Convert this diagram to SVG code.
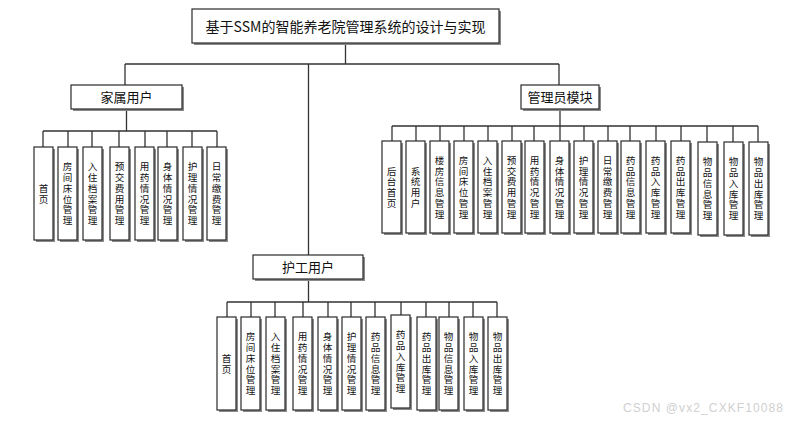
<svg xmlns="http://www.w3.org/2000/svg" width="806" height="424" viewBox="0 0 806 424">
<style>
.bg{fill:#ffffff}
.sh{fill:#8a8a8a}
.box{fill:#ffffff;stroke:#2a2a2a;stroke-width:1.2}
.ln{fill:none;stroke:#333333;stroke-width:1.3}
.t{font-family:"Noto Sans CJK SC","Noto Sans",sans-serif;fill:#111111;text-anchor:middle}
.h{font-size:14px}
.m{font-size:13px}
.v{font-family:"Liberation Sans","Noto Sans CJK SC",sans-serif;font-size:9.6px}
.wm{font-family:"Liberation Sans","Noto Sans",sans-serif;font-size:12px;letter-spacing:1.1px;fill:#d0d0d0}
</style>
<rect class="bg" x="0" y="0" width="806" height="424"/>
<g id="connectors">
<path class="ln" d="M345.5 43V64M125 64H559M125 64V85M559 64V85M308.5 64V255"/>
<path class="ln" d="M126.5 109V131M43 131H217M43 131V147M68 131V147M92 131V147M119 131V147M145 131V147M167 131V147M192 131V147M217 131V147"/>
<path class="ln" d="M560 109V126M392 126H758M392 126V141M416 126V141M440 126V141M464 126V141M488 126V141M512 126V141M534 126V141M560 126V141M584 126V141M608 126V141M630 126V141M656 126V141M681 126V141M707 126V142M733 126V142M758 126V142"/>
<path class="ln" d="M308.5 279V302M227 302H497M227 302V317M251 302V317M275 302V317M303 302V317M328 302V317M351 302V317M375 302V317M401 302V315M426 302V317M449 302V317M473 302V317M497 302V317"/>
</g>
<g id="title">
<rect class="sh" x="194" y="11" width="307" height="34"/>
<rect class="box" x="192" y="9" width="307" height="34"/>
<text class="t h" x="345.5" y="31.5">基于SSM的智能养老院管理系统的设计与实现</text>
</g>
<g id="family">
<rect class="sh" x="73" y="87" width="111" height="24"/>
<rect class="box" x="71" y="85" width="111" height="24"/>
<text class="t m" x="126.5" y="102">家属用户</text>
</g>
<g id="admin">
<rect class="sh" x="523" y="87" width="78" height="24"/>
<rect class="box" x="521" y="85" width="78" height="24"/>
<text class="t m" x="560" y="102">管理员模块</text>
</g>
<g id="nurse">
<rect class="sh" x="255" y="257" width="110" height="24"/>
<rect class="box" x="253" y="255" width="110" height="24"/>
<text class="t m" x="308" y="272">护工用户</text>
</g>

<g id="f1"><rect class="sh" x="36" y="149" width="19" height="93"/><rect class="box" x="34" y="147" width="19" height="93"/><text class="t v"><tspan x="43.5" y="191.8">首</tspan><tspan x="43.5" dy="10.8">页</tspan></text></g>
<g id="f2"><rect class="sh" x="60" y="149" width="19" height="93"/><rect class="box" x="58" y="147" width="19" height="93"/><text class="t v"><tspan x="67.5" y="170.2">房</tspan><tspan x="67.5" dy="10.8">间</tspan><tspan x="67.5" dy="10.8">床</tspan><tspan x="67.5" dy="10.8">位</tspan><tspan x="67.5" dy="10.8">管</tspan><tspan x="67.5" dy="10.8">理</tspan></text></g>
<g id="f3"><rect class="sh" x="85" y="149" width="19" height="93"/><rect class="box" x="83" y="147" width="19" height="93"/><text class="t v"><tspan x="92.5" y="170.2">入</tspan><tspan x="92.5" dy="10.8">住</tspan><tspan x="92.5" dy="10.8">档</tspan><tspan x="92.5" dy="10.8">案</tspan><tspan x="92.5" dy="10.8">管</tspan><tspan x="92.5" dy="10.8">理</tspan></text></g>
<g id="f4"><rect class="sh" x="112" y="149" width="19" height="93"/><rect class="box" x="110" y="147" width="19" height="93"/><text class="t v"><tspan x="119.5" y="170.2">预</tspan><tspan x="119.5" dy="10.8">交</tspan><tspan x="119.5" dy="10.8">费</tspan><tspan x="119.5" dy="10.8">用</tspan><tspan x="119.5" dy="10.8">管</tspan><tspan x="119.5" dy="10.8">理</tspan></text></g>
<g id="f5"><rect class="sh" x="137" y="149" width="19" height="93"/><rect class="box" x="135" y="147" width="19" height="93"/><text class="t v"><tspan x="144.5" y="170.2">用</tspan><tspan x="144.5" dy="10.8">药</tspan><tspan x="144.5" dy="10.8">情</tspan><tspan x="144.5" dy="10.8">况</tspan><tspan x="144.5" dy="10.8">管</tspan><tspan x="144.5" dy="10.8">理</tspan></text></g>
<g id="f6"><rect class="sh" x="160" y="149" width="19" height="93"/><rect class="box" x="158" y="147" width="19" height="93"/><text class="t v"><tspan x="167.5" y="170.2">身</tspan><tspan x="167.5" dy="10.8">体</tspan><tspan x="167.5" dy="10.8">情</tspan><tspan x="167.5" dy="10.8">况</tspan><tspan x="167.5" dy="10.8">管</tspan><tspan x="167.5" dy="10.8">理</tspan></text></g>
<g id="f7"><rect class="sh" x="185" y="149" width="19" height="93"/><rect class="box" x="183" y="147" width="19" height="93"/><text class="t v"><tspan x="192.5" y="170.2">护</tspan><tspan x="192.5" dy="10.8">理</tspan><tspan x="192.5" dy="10.8">情</tspan><tspan x="192.5" dy="10.8">况</tspan><tspan x="192.5" dy="10.8">管</tspan><tspan x="192.5" dy="10.8">理</tspan></text></g>
<g id="f8"><rect class="sh" x="209" y="149" width="19" height="93"/><rect class="box" x="207" y="147" width="19" height="93"/><text class="t v"><tspan x="216.5" y="170.2">日</tspan><tspan x="216.5" dy="10.8">常</tspan><tspan x="216.5" dy="10.8">缴</tspan><tspan x="216.5" dy="10.8">费</tspan><tspan x="216.5" dy="10.8">管</tspan><tspan x="216.5" dy="10.8">理</tspan></text></g>

<g id="a1"><rect class="sh" x="384" y="143" width="19" height="92"/><rect class="box" x="382" y="141" width="19" height="92"/><text class="t v"><tspan x="391.5" y="174.5">后</tspan><tspan x="391.5" dy="10.8">台</tspan><tspan x="391.5" dy="10.8">首</tspan><tspan x="391.5" dy="10.8">页</tspan></text></g>
<g id="a2"><rect class="sh" x="408" y="143" width="19" height="92"/><rect class="box" x="406" y="141" width="19" height="92"/><text class="t v"><tspan x="415.5" y="174.5">系</tspan><tspan x="415.5" dy="10.8">统</tspan><tspan x="415.5" dy="10.8">用</tspan><tspan x="415.5" dy="10.8">户</tspan></text></g>
<g id="a3"><rect class="sh" x="432" y="143" width="19" height="92"/><rect class="box" x="430" y="141" width="19" height="92"/><text class="t v"><tspan x="439.5" y="163.7">楼</tspan><tspan x="439.5" dy="10.8">房</tspan><tspan x="439.5" dy="10.8">信</tspan><tspan x="439.5" dy="10.8">息</tspan><tspan x="439.5" dy="10.8">管</tspan><tspan x="439.5" dy="10.8">理</tspan></text></g>
<g id="a4"><rect class="sh" x="456" y="143" width="19" height="92"/><rect class="box" x="454" y="141" width="19" height="92"/><text class="t v"><tspan x="463.5" y="163.7">房</tspan><tspan x="463.5" dy="10.8">间</tspan><tspan x="463.5" dy="10.8">床</tspan><tspan x="463.5" dy="10.8">位</tspan><tspan x="463.5" dy="10.8">管</tspan><tspan x="463.5" dy="10.8">理</tspan></text></g>
<g id="a5"><rect class="sh" x="480" y="143" width="19" height="92"/><rect class="box" x="478" y="141" width="19" height="92"/><text class="t v"><tspan x="487.5" y="163.7">入</tspan><tspan x="487.5" dy="10.8">住</tspan><tspan x="487.5" dy="10.8">档</tspan><tspan x="487.5" dy="10.8">案</tspan><tspan x="487.5" dy="10.8">管</tspan><tspan x="487.5" dy="10.8">理</tspan></text></g>
<g id="a6"><rect class="sh" x="504" y="143" width="19" height="92"/><rect class="box" x="502" y="141" width="19" height="92"/><text class="t v"><tspan x="511.5" y="163.7">预</tspan><tspan x="511.5" dy="10.8">交</tspan><tspan x="511.5" dy="10.8">费</tspan><tspan x="511.5" dy="10.8">用</tspan><tspan x="511.5" dy="10.8">管</tspan><tspan x="511.5" dy="10.8">理</tspan></text></g>
<g id="a7"><rect class="sh" x="527" y="143" width="19" height="92"/><rect class="box" x="525" y="141" width="19" height="92"/><text class="t v"><tspan x="534.5" y="163.7">用</tspan><tspan x="534.5" dy="10.8">药</tspan><tspan x="534.5" dy="10.8">情</tspan><tspan x="534.5" dy="10.8">况</tspan><tspan x="534.5" dy="10.8">管</tspan><tspan x="534.5" dy="10.8">理</tspan></text></g>
<g id="a8"><rect class="sh" x="552" y="143" width="19" height="92"/><rect class="box" x="550" y="141" width="19" height="92"/><text class="t v"><tspan x="559.5" y="163.7">身</tspan><tspan x="559.5" dy="10.8">体</tspan><tspan x="559.5" dy="10.8">情</tspan><tspan x="559.5" dy="10.8">况</tspan><tspan x="559.5" dy="10.8">管</tspan><tspan x="559.5" dy="10.8">理</tspan></text></g>
<g id="a9"><rect class="sh" x="576" y="143" width="19" height="92"/><rect class="box" x="574" y="141" width="19" height="92"/><text class="t v"><tspan x="583.5" y="163.7">护</tspan><tspan x="583.5" dy="10.8">理</tspan><tspan x="583.5" dy="10.8">情</tspan><tspan x="583.5" dy="10.8">况</tspan><tspan x="583.5" dy="10.8">管</tspan><tspan x="583.5" dy="10.8">理</tspan></text></g>
<g id="a10"><rect class="sh" x="600" y="143" width="19" height="92"/><rect class="box" x="598" y="141" width="19" height="92"/><text class="t v"><tspan x="607.5" y="163.7">日</tspan><tspan x="607.5" dy="10.8">常</tspan><tspan x="607.5" dy="10.8">缴</tspan><tspan x="607.5" dy="10.8">费</tspan><tspan x="607.5" dy="10.8">管</tspan><tspan x="607.5" dy="10.8">理</tspan></text></g>
<g id="a11"><rect class="sh" x="623" y="143" width="19" height="92"/><rect class="box" x="621" y="141" width="19" height="92"/><text class="t v"><tspan x="630.5" y="163.7">药</tspan><tspan x="630.5" dy="10.8">品</tspan><tspan x="630.5" dy="10.8">信</tspan><tspan x="630.5" dy="10.8">息</tspan><tspan x="630.5" dy="10.8">管</tspan><tspan x="630.5" dy="10.8">理</tspan></text></g>
<g id="a12"><rect class="sh" x="648" y="143" width="19" height="92"/><rect class="box" x="646" y="141" width="19" height="92"/><text class="t v"><tspan x="655.5" y="163.7">药</tspan><tspan x="655.5" dy="10.8">品</tspan><tspan x="655.5" dy="10.8">入</tspan><tspan x="655.5" dy="10.8">库</tspan><tspan x="655.5" dy="10.8">管</tspan><tspan x="655.5" dy="10.8">理</tspan></text></g>
<g id="a13"><rect class="sh" x="673" y="143" width="19" height="92"/><rect class="box" x="671" y="141" width="19" height="92"/><text class="t v"><tspan x="680.5" y="163.7">药</tspan><tspan x="680.5" dy="10.8">品</tspan><tspan x="680.5" dy="10.8">出</tspan><tspan x="680.5" dy="10.8">库</tspan><tspan x="680.5" dy="10.8">管</tspan><tspan x="680.5" dy="10.8">理</tspan></text></g>
<g id="a14"><rect class="sh" x="700" y="144" width="19" height="93"/><rect class="box" x="698" y="142" width="19" height="93"/><text class="t v"><tspan x="707.5" y="165.2">物</tspan><tspan x="707.5" dy="10.8">品</tspan><tspan x="707.5" dy="10.8">信</tspan><tspan x="707.5" dy="10.8">息</tspan><tspan x="707.5" dy="10.8">管</tspan><tspan x="707.5" dy="10.8">理</tspan></text></g>
<g id="a15"><rect class="sh" x="726" y="144" width="19" height="93"/><rect class="box" x="724" y="142" width="19" height="93"/><text class="t v"><tspan x="733.5" y="165.2">物</tspan><tspan x="733.5" dy="10.8">品</tspan><tspan x="733.5" dy="10.8">入</tspan><tspan x="733.5" dy="10.8">库</tspan><tspan x="733.5" dy="10.8">管</tspan><tspan x="733.5" dy="10.8">理</tspan></text></g>
<g id="a16"><rect class="sh" x="751" y="144" width="19" height="93"/><rect class="box" x="749" y="142" width="19" height="93"/><text class="t v"><tspan x="758.5" y="165.2">物</tspan><tspan x="758.5" dy="10.8">品</tspan><tspan x="758.5" dy="10.8">出</tspan><tspan x="758.5" dy="10.8">库</tspan><tspan x="758.5" dy="10.8">管</tspan><tspan x="758.5" dy="10.8">理</tspan></text></g>

<g id="n1"><rect class="sh" x="219" y="319" width="19" height="93"/><rect class="box" x="217" y="317" width="19" height="93"/><text class="t v"><tspan x="226.5" y="361.8">首</tspan><tspan x="226.5" dy="10.8">页</tspan></text></g>
<g id="n2"><rect class="sh" x="243" y="319" width="19" height="93"/><rect class="box" x="241" y="317" width="19" height="93"/><text class="t v"><tspan x="250.5" y="340.2">房</tspan><tspan x="250.5" dy="10.8">间</tspan><tspan x="250.5" dy="10.8">床</tspan><tspan x="250.5" dy="10.8">位</tspan><tspan x="250.5" dy="10.8">管</tspan><tspan x="250.5" dy="10.8">理</tspan></text></g>
<g id="n3"><rect class="sh" x="268" y="319" width="19" height="93"/><rect class="box" x="266" y="317" width="19" height="93"/><text class="t v"><tspan x="275.5" y="340.2">入</tspan><tspan x="275.5" dy="10.8">住</tspan><tspan x="275.5" dy="10.8">档</tspan><tspan x="275.5" dy="10.8">案</tspan><tspan x="275.5" dy="10.8">管</tspan><tspan x="275.5" dy="10.8">理</tspan></text></g>
<g id="n4"><rect class="sh" x="295" y="319" width="19" height="93"/><rect class="box" x="293" y="317" width="19" height="93"/><text class="t v"><tspan x="302.5" y="340.2">用</tspan><tspan x="302.5" dy="10.8">药</tspan><tspan x="302.5" dy="10.8">情</tspan><tspan x="302.5" dy="10.8">况</tspan><tspan x="302.5" dy="10.8">管</tspan><tspan x="302.5" dy="10.8">理</tspan></text></g>
<g id="n5"><rect class="sh" x="320" y="319" width="19" height="93"/><rect class="box" x="318" y="317" width="19" height="93"/><text class="t v"><tspan x="327.5" y="340.2">身</tspan><tspan x="327.5" dy="10.8">体</tspan><tspan x="327.5" dy="10.8">情</tspan><tspan x="327.5" dy="10.8">况</tspan><tspan x="327.5" dy="10.8">管</tspan><tspan x="327.5" dy="10.8">理</tspan></text></g>
<g id="n6"><rect class="sh" x="344" y="319" width="19" height="93"/><rect class="box" x="342" y="317" width="19" height="93"/><text class="t v"><tspan x="351.5" y="340.2">护</tspan><tspan x="351.5" dy="10.8">理</tspan><tspan x="351.5" dy="10.8">情</tspan><tspan x="351.5" dy="10.8">况</tspan><tspan x="351.5" dy="10.8">管</tspan><tspan x="351.5" dy="10.8">理</tspan></text></g>
<g id="n7"><rect class="sh" x="368" y="319" width="19" height="93"/><rect class="box" x="366" y="317" width="19" height="93"/><text class="t v"><tspan x="375.5" y="340.2">药</tspan><tspan x="375.5" dy="10.8">品</tspan><tspan x="375.5" dy="10.8">信</tspan><tspan x="375.5" dy="10.8">息</tspan><tspan x="375.5" dy="10.8">管</tspan><tspan x="375.5" dy="10.8">理</tspan></text></g>
<g id="n8"><rect class="sh" x="393" y="317" width="19" height="93"/><rect class="box" x="391" y="315" width="19" height="93"/><text class="t v"><tspan x="400.5" y="338.2">药</tspan><tspan x="400.5" dy="10.8">品</tspan><tspan x="400.5" dy="10.8">入</tspan><tspan x="400.5" dy="10.8">库</tspan><tspan x="400.5" dy="10.8">管</tspan><tspan x="400.5" dy="10.8">理</tspan></text></g>
<g id="n9"><rect class="sh" x="419" y="319" width="19" height="93"/><rect class="box" x="417" y="317" width="19" height="93"/><text class="t v"><tspan x="426.5" y="340.2">药</tspan><tspan x="426.5" dy="10.8">品</tspan><tspan x="426.5" dy="10.8">出</tspan><tspan x="426.5" dy="10.8">库</tspan><tspan x="426.5" dy="10.8">管</tspan><tspan x="426.5" dy="10.8">理</tspan></text></g>
<g id="n10"><rect class="sh" x="441" y="319" width="19" height="93"/><rect class="box" x="439" y="317" width="19" height="93"/><text class="t v"><tspan x="448.5" y="340.2">物</tspan><tspan x="448.5" dy="10.8">品</tspan><tspan x="448.5" dy="10.8">信</tspan><tspan x="448.5" dy="10.8">息</tspan><tspan x="448.5" dy="10.8">管</tspan><tspan x="448.5" dy="10.8">理</tspan></text></g>
<g id="n11"><rect class="sh" x="466" y="319" width="19" height="93"/><rect class="box" x="464" y="317" width="19" height="93"/><text class="t v"><tspan x="473.5" y="340.2">物</tspan><tspan x="473.5" dy="10.8">品</tspan><tspan x="473.5" dy="10.8">入</tspan><tspan x="473.5" dy="10.8">库</tspan><tspan x="473.5" dy="10.8">管</tspan><tspan x="473.5" dy="10.8">理</tspan></text></g>
<g id="n12"><rect class="sh" x="490" y="319" width="19" height="93"/><rect class="box" x="488" y="317" width="19" height="93"/><text class="t v"><tspan x="497.5" y="340.2">物</tspan><tspan x="497.5" dy="10.8">品</tspan><tspan x="497.5" dy="10.8">出</tspan><tspan x="497.5" dy="10.8">库</tspan><tspan x="497.5" dy="10.8">管</tspan><tspan x="497.5" dy="10.8">理</tspan></text></g>

<text class="wm" x="623" y="412">CSDN @vx2_CXKF10088</text>
</svg>
